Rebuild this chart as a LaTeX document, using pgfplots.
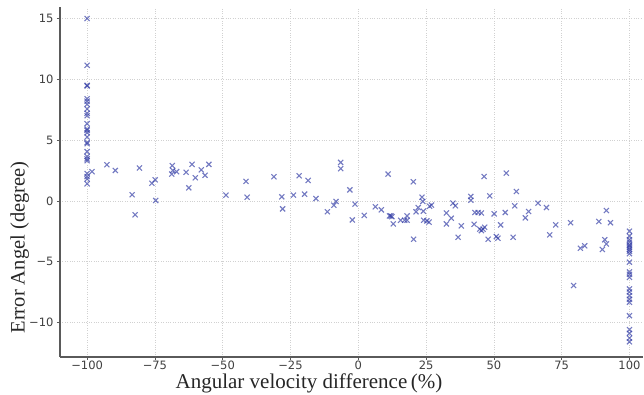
\documentclass[border=0pt]{standalone}
\usepackage{fontspec}
\setmainfont{Liberation Serif}
\newfontfamily\tickfont{DejaVu Sans}
\usepackage{pgfplots}
\pgfplotsset{compat=1.18}
\definecolor{pts}{RGB}{50,60,165}
\definecolor{spine}{RGB}{90,90,90}
\begin{document}
\begin{tikzpicture}
\begin{axis}[
  scale only axis,
  width=583pt, height=350pt,
  xmin=-110, xmax=105,
  ymin=-12.85, ymax=15.95,
  axis x line=bottom, axis y line=left,
  axis line style={-, spine, line width=1.1pt},
  xtick={-100,-75,-50,-25,0,25,50,75,100},
  xticklabels={−100,−75,−50,−25,0,25,50,75,100},
  ytick={-10,-5,0,5,10,15},
  yticklabels={−10,−5,0,5,10,15},
  tick align=outside,
  major tick length=3pt,
  tick style={spine, line width=0.6pt},
  ticklabel style={font=\tickfont\fontsize{11.5}{13}\selectfont, text=black!75},
  xticklabel style={yshift=2.5pt},
  grid=major,
  grid style={dotted, black!18, line width=0.6pt},
  xlabel={Angular velocity difference\,(\%)},
  ylabel={Error Angel (degree)},
  xlabel style={font=\fontsize{21}{23}\selectfont, text=black!85, at={(rel axis cs:0.427,0)}, anchor=north, yshift=-17pt, inner sep=0pt},
  ylabel style={font=\fontsize{20.5}{23}\selectfont, text=black!85, at={(rel axis cs:-0.069,0.313)}, anchor=center},
]
\coordinate (bl) at (rel axis cs:0,0);
\addplot[only marks, mark=x, mark size=3.6pt, mark options={draw=pts, line width=1.1pt, draw opacity=0.68}] coordinates {
(-100,15.0) (-100,11.15) (-100,9.5) (-100,9.45) (-100,8.4) (-100,8.2) (-100,7.95)
(-100,7.55) (-100,7.2) (-100,7.0) (-100,6.35) (-100,5.9) (-100,5.8) (-100,5.6)
(-100,5.25) (-100,4.8) (-100,4.7) (-100,4.05) (-100,3.65) (-100,3.45) (-100,3.3)
(-100,2.25) (-100,2.0) (-100,1.8) (-100,1.4)
(-98.2,2.4) (-92.7,2.97) (-89.6,2.5) (-83.4,0.5) (-82.3,-1.15) (-80.7,2.7)
(-76.1,1.45) (-74.9,1.73) (-74.7,0.03) (-68.6,2.9) (-68.8,2.2) (-68.4,2.5)
(-67.0,2.4) (-63.5,2.35) (-62.5,1.07) (-61.3,3.0) (-60.1,1.9) (-57.9,2.55)
(-56.5,2.1) (-55.1,3.0) (-48.8,0.47) (-41.4,1.6) (-41.0,0.3)
(-31.1,1.98) (-28.2,0.33) (-27.9,-0.66) (-23.9,0.47) (-21.8,2.06) (-19.8,0.55)
(-18.5,1.68) (-15.6,0.19) (-11.4,-0.9) (-9.0,-0.36) (-8.2,-0.05) (-6.5,3.16)
(-6.5,2.65) (-3.1,0.9) (-2.2,-1.57) (-1.2,-0.27) (2.2,-1.2) (6.3,-0.49)
(8.5,-0.74) (11.0,2.2) (11.5,-1.24) (12.0,-1.24) (12.4,-1.3) (12.9,-1.9)
(15.6,-1.6) (17.1,-1.6) (18.0,-1.24) (18.0,-1.6)
(20.3,1.57) (20.4,-3.16) (21.3,-0.9) (22.1,-0.55) (23.5,0.3) (23.8,-0.05)
(24.0,-0.85) (24.1,-1.6) (25.3,-1.65) (26.1,-1.75) (26.3,-0.45) (27.0,-0.35)
(32.5,-1.0) (32.5,-1.9) (34.3,-1.43) (34.9,-0.19) (35.8,-0.41) (36.8,-3.0)
(38.0,-2.06) (41.5,0.36) (41.5,0.05) (43.0,-0.96) (44.2,-0.96) (45.4,-1.0)
(42.7,-1.93) (44.8,-2.33) (46.0,-2.33) (46.6,-2.17) (45.4,-2.45) (46.4,2.0)
(48.5,0.41) (47.9,-3.16) (50.1,-1.07) (50.9,-2.94) (51.5,-3.08) (52.5,-1.98)
(54.2,-0.96) (54.6,2.28) (57.1,-3.0) (57.7,-0.41) (58.3,0.77) (61.6,-1.4)
(62.8,-0.88) (66.3,-0.19) (69.4,-0.55) (70.6,-2.8) (72.8,-1.98) (78.3,-1.8)
(79.4,-6.97) (81.9,-3.9) (83.5,-3.7) (88.7,-1.7) (91.5,-0.8) (93.0,-1.8)
(90.0,-4.0) (90.9,-3.2) (91.5,-3.55)
(100,-2.5) (100,-2.9) (100,-3.2) (100,-3.4) (100,-3.6) (100,-3.7) (100,-3.85)
(100,-4.0) (100,-4.15) (100,-4.35) (100,-5.05) (100,-5.85) (100,-6.05) (100,-6.3)
(100,-7.25) (100,-7.5) (100,-7.8) (100,-8.1) (100,-8.35) (100,-9.45) (100,-10.6)
(100,-10.9) (100,-11.3) (100,-11.6)
};
\end{axis}
\path ([xshift=-60pt,yshift=-38pt]bl) rectangle ([xshift=584pt,yshift=357pt]bl);
\end{tikzpicture}
\end{document}
